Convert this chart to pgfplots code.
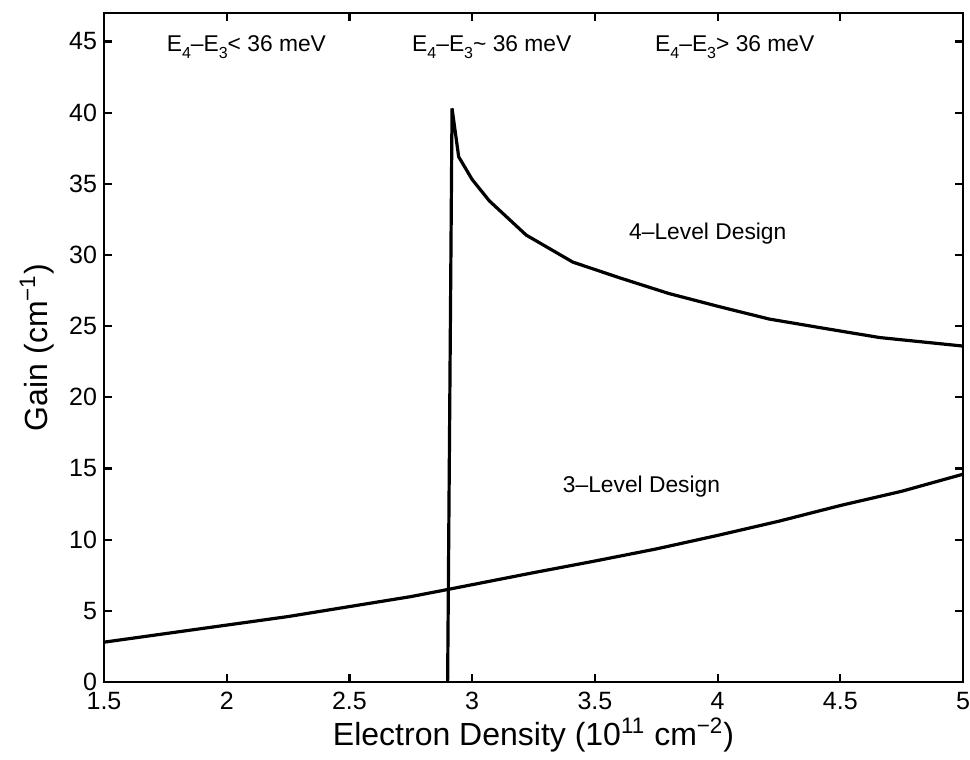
\documentclass[border=0pt]{standalone}
\usepackage{pgfplots}
\pgfplotsset{compat=1.18}
\usepackage{fontspec}
\setmainfont{Liberation Sans}
\newcommand\sub[1]{\raisebox{-0.6ex}{\fontsize{8}{9}\selectfont #1}}

\begin{document}
\begin{tikzpicture}
\begin{axis}[
  scale only axis, width=429.5pt, height=334.5pt,
  xmin=1.5, xmax=5, ymin=0, ymax=47,
  xtick={1.5,2,2.5,3,3.5,4,4.5,5},
  ytick={0,5,10,15,20,25,30,35,40,45},
  tick align=inside, major tick length=4pt,
  xtick pos=both, ytick pos=both,
  axis line style={line width=1.3pt}, tick style={line width=1.1pt, black},
  /pgf/number format/assume math mode=true,
  tick label style={font=\fontsize{12.5}{14}\selectfont},
  xticklabel style={yshift=-1.5pt, inner xsep=0pt},
  yticklabel style={xshift=0pt},
  label style={font=\fontsize{16}{19}\selectfont},
  xlabel={Electron Density (10\textsuperscript{11} cm\textsuperscript{−2})},
  ylabel={Gain (cm\textsuperscript{−1})},
  xlabel style={yshift=3pt},
  ylabel style={yshift=0.5pt},
  clip=false,
]
% 4-level design
\addplot[black, line width=1.6pt] coordinates {
  (2.900,0) (2.918,40.3) (2.945,36.9) (3.00,35.3) (3.07,33.8) (3.22,31.4)
  (3.41,29.5) (3.60,28.4) (3.80,27.3) (4.00,26.4) (4.21,25.5) (4.45,24.8)
  (4.66,24.2) (5.00,23.6)
};
% 3-level design
\addplot[black, line width=1.6pt] coordinates {
  (1.50,2.8) (1.75,3.4) (2.00,4.0) (2.25,4.6) (2.50,5.3) (2.75,6.0) (2.90,6.5)
  (3.24,7.65) (3.50,8.5) (3.75,9.35) (4.00,10.3) (4.25,11.3) (4.50,12.4)
  (4.75,13.4) (5.00,14.6)
};
\node[font=\fontsize{11.4}{13}\selectfont] at (axis cs:2.08,44.6)
  {E\sub{4}–E\sub{3}< 36 meV};
\node[font=\fontsize{11.4}{13}\selectfont] at (axis cs:3.08,44.6)
  {E\sub{4}–E\sub{3}\textasciitilde{} 36 meV};
\node[font=\fontsize{11.4}{13}\selectfont] at (axis cs:4.07,44.6)
  {E\sub{4}–E\sub{3}> 36 meV};
\node[font=\fontsize{11.4}{13}\selectfont] at (axis cs:3.96,31.5) {4–Level Design};
\node[font=\fontsize{11.4}{13}\selectfont] at (axis cs:3.69,13.7) {3–Level Design};
\end{axis}
% margins round the box, as in the reference
\path ([yshift=6.5pt]current axis.north);
\path ([xshift=-52pt,yshift=-37.5pt]current axis.south west);
\end{tikzpicture}
\end{document}
